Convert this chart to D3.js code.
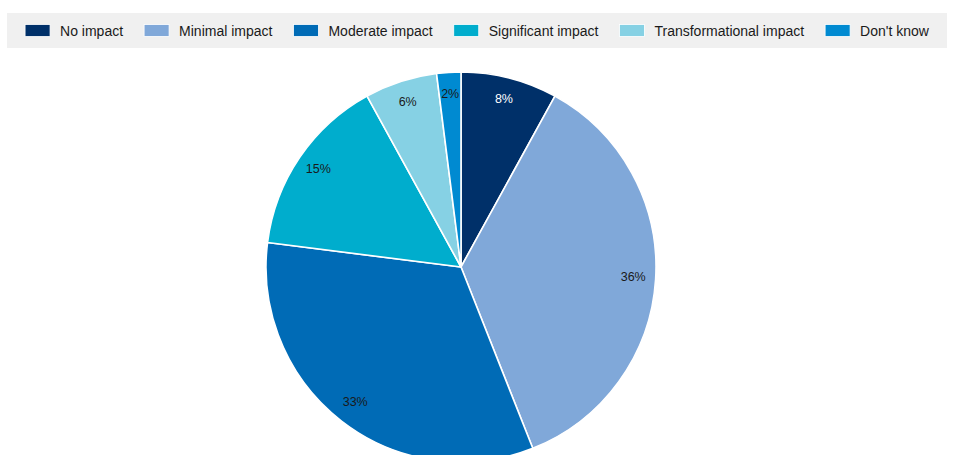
<!DOCTYPE html>
<html>
<head>
<meta charset="utf-8">
<script src="https://cdn.jsdelivr.net/npm/d3@7"></script>
<style>
  html, body { margin: 0; padding: 0; background: #ffffff; }
  svg { display: block; font-family: "Liberation Sans", Arial, sans-serif; }
</style>
</head>
<body>
<svg id="chart" width="953" height="455"></svg>
<script>
// Survey responses: share of respondents by expected impact (%)
const categories = ["No impact", "Minimal impact", "Moderate impact", "Significant impact", "Transformational impact", "Don't know"];
const shares = [8, 36, 33, 15, 6, 2];
const colors = ["#003069", "#80a8d9", "#006bb6", "#00adcd", "#86d1e4", "#008ad1"];
const labelColors = ["#ffffff", "#1a1a1a", "#1a1a1a", "#1a1a1a", "#1a1a1a", "#1a1a1a"];

const W = 953, H = 455;
const svg = d3.select("#chart");

const data = categories.map((c, i) => ({ name: c, value: shares[i], color: colors[i], labelColor: labelColors[i] }));

// Legend band
const band = { x: 7, y: 13, w: 940, h: 35 };
svg.append("rect")
  .attr("x", band.x).attr("y", band.y)
  .attr("width", band.w).attr("height", band.h)
  .attr("fill", "#f0f0f0");

const legend = svg.append("g");
const items = legend.selectAll("g.item").data(data).enter().append("g").attr("class", "item");
items.append("rect")
  .attr("width", 25).attr("height", 12)
  .attr("y", 24.5)
  .attr("fill", d => d.color)
  .attr("stroke", "#ffffff").attr("stroke-width", 0.8);
items.append("text")
  .attr("x", 35).attr("y", 36)
  .attr("font-size", 14)
  .attr("fill", "#1a1a1a")
  .text(d => d.name);

// Lay legend entries out in a row, centred in the band
const swatchW = 25, swatchGap = 10, itemGap = 21;
let widths = [];
items.each(function () {
  widths.push(swatchW + swatchGap + d3.select(this).select("text").node().getComputedTextLength());
});
const total = d3.sum(widths) + itemGap * (widths.length - 1);
let cx = band.x + band.w / 2 - total / 2;
items.attr("transform", (d, i) => {
  const x = cx;
  cx += widths[i] + itemGap;
  return `translate(${x},0)`;
});

// Pie
const center = { x: 461, y: 267 };
const R = 195;
const pie = d3.pie().sort(null).value(d => d.value);
const arc = d3.arc().innerRadius(0).outerRadius(R);
const labelArc = d3.arc().innerRadius(R * 0.885).outerRadius(R * 0.885);

const g = svg.append("g").attr("transform", `translate(${center.x},${center.y})`);
const arcs = pie(data);

g.selectAll("path").data(arcs).enter().append("path")
  .attr("d", arc)
  .attr("fill", d => d.data.color)
  .attr("stroke", "#ffffff")
  .attr("stroke-width", 1.6)
  .attr("stroke-linejoin", "round");

g.selectAll("text.lbl").data(arcs).enter().append("text")
  .attr("class", "lbl")
  .attr("transform", d => `translate(${labelArc.centroid(d)})`)
  .attr("text-anchor", "middle")
  .attr("dy", "0.25em")
  .attr("font-size", 12.5)
  .attr("fill", d => d.data.labelColor)
  .text(d => d.data.value + "%");
</script>
</body>
</html>
